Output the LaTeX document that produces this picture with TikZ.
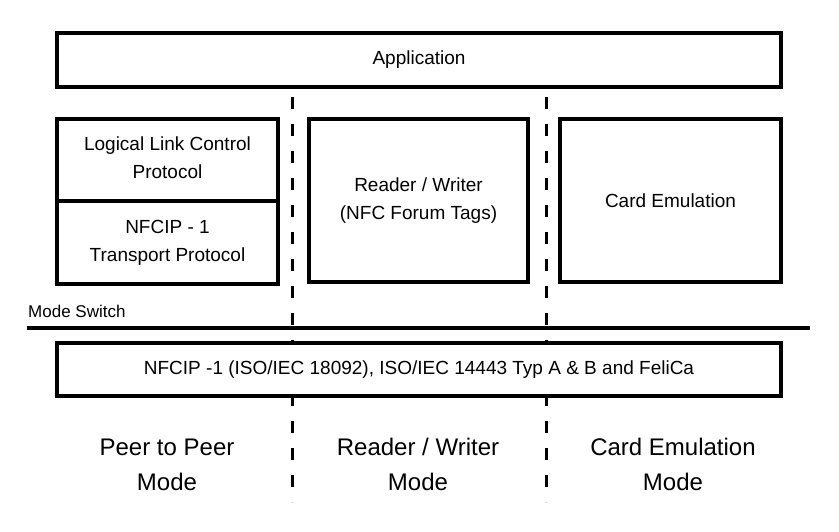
\documentclass[tikz,border=0pt]{standalone}
\usepackage{fontspec}
\setmainfont{Liberation Sans}
\newcommand{\firststrut}{\rule{0pt}{19pt}}
\begin{document}
\begin{tikzpicture}[x=1pt,y=-1pt,
  box/.style={draw,fill=white,line width=4pt,rectangle,inner sep=0pt,align=center,font=\fontsize{19}{28}\selectfont},
  modelabel/.style={align=center,anchor=north,inner sep=0pt,font=\fontsize{24}{35}\selectfont},
  sepline/.style={line width=3pt,dash pattern=on 12pt off 15pt}]
\useasboundingbox (0,0) rectangle (839,532);
\coordinate (msl) at (27,328);
\coordinate (msr) at (810,328);
\draw[line width=4pt] (msl) -- (msr);
\coordinate (d1t) at (292,97);
\coordinate (d1b) at (292,502);
\coordinate (d2t) at (546.5,97);
\coordinate (d2b) at (546.5,502);
\draw[sepline] (d1t) -- (d1b);
\draw[sepline] (d2t) -- (d2b);
\node[box,minimum width=724pt,minimum height=54pt] (app) at (419,60) {Application};
\node[box,minimum width=221pt,minimum height=82pt] (llc) at (167.5,160) {\raisebox{2.5pt}[\height][\depth]{\parbox{200pt}{\centering Logical Link Control\\Protocol}}};
\node[box,minimum width=221pt,minimum height=83pt] (nfcip) at (167.5,242.5) {NFCIP - 1\\Transport Protocol};
\node[box,minimum width=219pt,minimum height=163pt] (rw) at (418.5,200.5) {Reader / Writer\\(NFC Forum Tags)};
\node[box,minimum width=221pt,minimum height=163pt] (ce) at (670.5,200.5) {Card Emulation};
\node[box,minimum width=724pt,minimum height=53pt] (rf) at (419,369.5) {NFCIP -1 (ISO/IEC 18092), ISO/IEC 14443 Typ A \& B and FeliCa};
\node[font=\fontsize{17}{20}\selectfont,anchor=west,inner sep=0pt] (ms) at (28,311) {Mode Switch};
\node[modelabel] (p2p) at (167,436) {\firststrut Peer to Peer\\Mode};
\node[modelabel] (rwm) at (418,436) {\firststrut Reader / Writer\\Mode};
\node[modelabel] (cem) at (673,436) {\firststrut Card Emulation\\Mode};
\end{tikzpicture}
\end{document}
